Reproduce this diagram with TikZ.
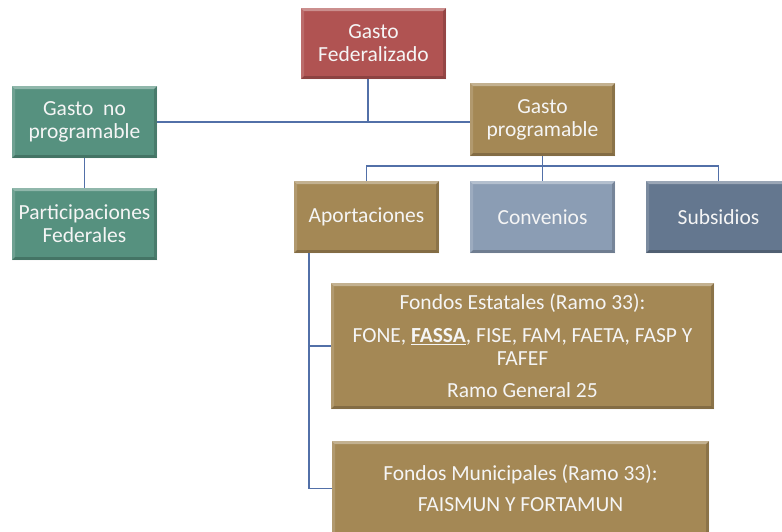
\documentclass[tikz,border=0pt]{standalone}
\usepackage{fontspec}
\setmainfont{Carlito}
\definecolor{fedred}{RGB}{176,83,82}
\definecolor{tealg}{RGB}{86,145,127}
\definecolor{goldb}{RGB}{164,136,85}
\definecolor{convc}{RGB}{139,157,180}
\definecolor{subsc}{RGB}{100,119,143}
\definecolor{linkc}{RGB}{82,112,168}
\tikzset{
  bevel/.style={path picture={
    \fill[white,opacity=0.35] (path picture bounding box.north west) -- (path picture bounding box.north east)
      -- ([shift={(-3pt,-3pt)}]path picture bounding box.north east) -- ([shift={(3pt,-3pt)}]path picture bounding box.north west) -- cycle;
    \fill[white,opacity=0.15] (path picture bounding box.north west) -- (path picture bounding box.south west)
      -- ([shift={(3pt,3pt)}]path picture bounding box.south west) -- ([shift={(3pt,-3pt)}]path picture bounding box.north west) -- cycle;
    \fill[black,opacity=0.15] (path picture bounding box.north east) -- (path picture bounding box.south east)
      -- ([shift={(-3pt,3pt)}]path picture bounding box.south east) -- ([shift={(-3pt,-3pt)}]path picture bounding box.north east) -- cycle;
    \fill[black,opacity=0.2] (path picture bounding box.south west) -- (path picture bounding box.south east)
      -- ([shift={(-3pt,3pt)}]path picture bounding box.south east) -- ([shift={(3pt,3pt)}]path picture bounding box.south west) -- cycle;
  }},
  box/.style={rectangle, bevel, minimum width=145pt, minimum height=72pt, inner sep=0pt,
    text=white!96!black, align=center, font=\fontsize{21.5}{23}\selectfont},
  conn/.style={draw=linkc, line width=1.5pt},
}
\begin{document}
\begin{tikzpicture}[x=1pt,y=-1pt]
\useasboundingbox (0,0) rectangle (782,531);
\begin{scope}
\clip (0,0) rectangle (782,531);
\node[box, fill=fedred, minimum height=71pt] (fed) at (373.5,43.5) {Gasto\\Federalizado};
\node[box, fill=tealg] (gnp) at (84.5,122) {Gasto\ \ no\\programable};
\node[box, fill=tealg] (pf) at (84.5,224) {Participaciones\\Federales};
\node[box, fill=goldb, minimum height=73pt] (gp) at (542.5,119.5) {Gasto\\programable};
\node[box, fill=goldb] (apo) at (366.5,217) {Aportaciones};
\node[box, fill=convc] (conv) at (542.5,217) {Convenios};
\node[box, fill=subsc] (subs) at (718.5,217) {Subsidios};
\node[box, fill=goldb, minimum width=383pt, minimum height=126pt] (fe) at (522.5,346)
  {Fondos Estatales (Ramo 33):\\[10pt]
   FONE, \underline{\textbf{FASSA}}, FISE, FAM, FAETA, FASP Y\\ FAFEF\\[9pt]
   Ramo General 25};
\node[box, fill=goldb, minimum width=377pt, minimum height=95pt] (fm) at (520.5,488.5)
  {Fondos Municipales (Ramo 33):\\[8pt] FAISMUN Y FORTAMUN};
% connectors
\draw[conn] ([xshift=-5.5pt]fed.south) -- ([xshift=-5.5pt]fed.south |- gnp.east);
\draw[conn] (gnp.east) -- (gnp.east -| gp.west);
\draw[conn] (gnp.south) -- (pf.north);
\draw[conn] (gp.south) -- (conv.north);
\draw[conn] ([yshift=-10pt]gp.south) -| (apo.north);
\draw[conn] ([yshift=-10pt]gp.south) -| (subs.north);
\draw[conn] ([xshift=15pt]apo.south west) |- (fe.west);
\draw[conn] ([xshift=15pt]apo.south west) |- (fm.west);
\end{scope}
\end{tikzpicture}
\end{document}
